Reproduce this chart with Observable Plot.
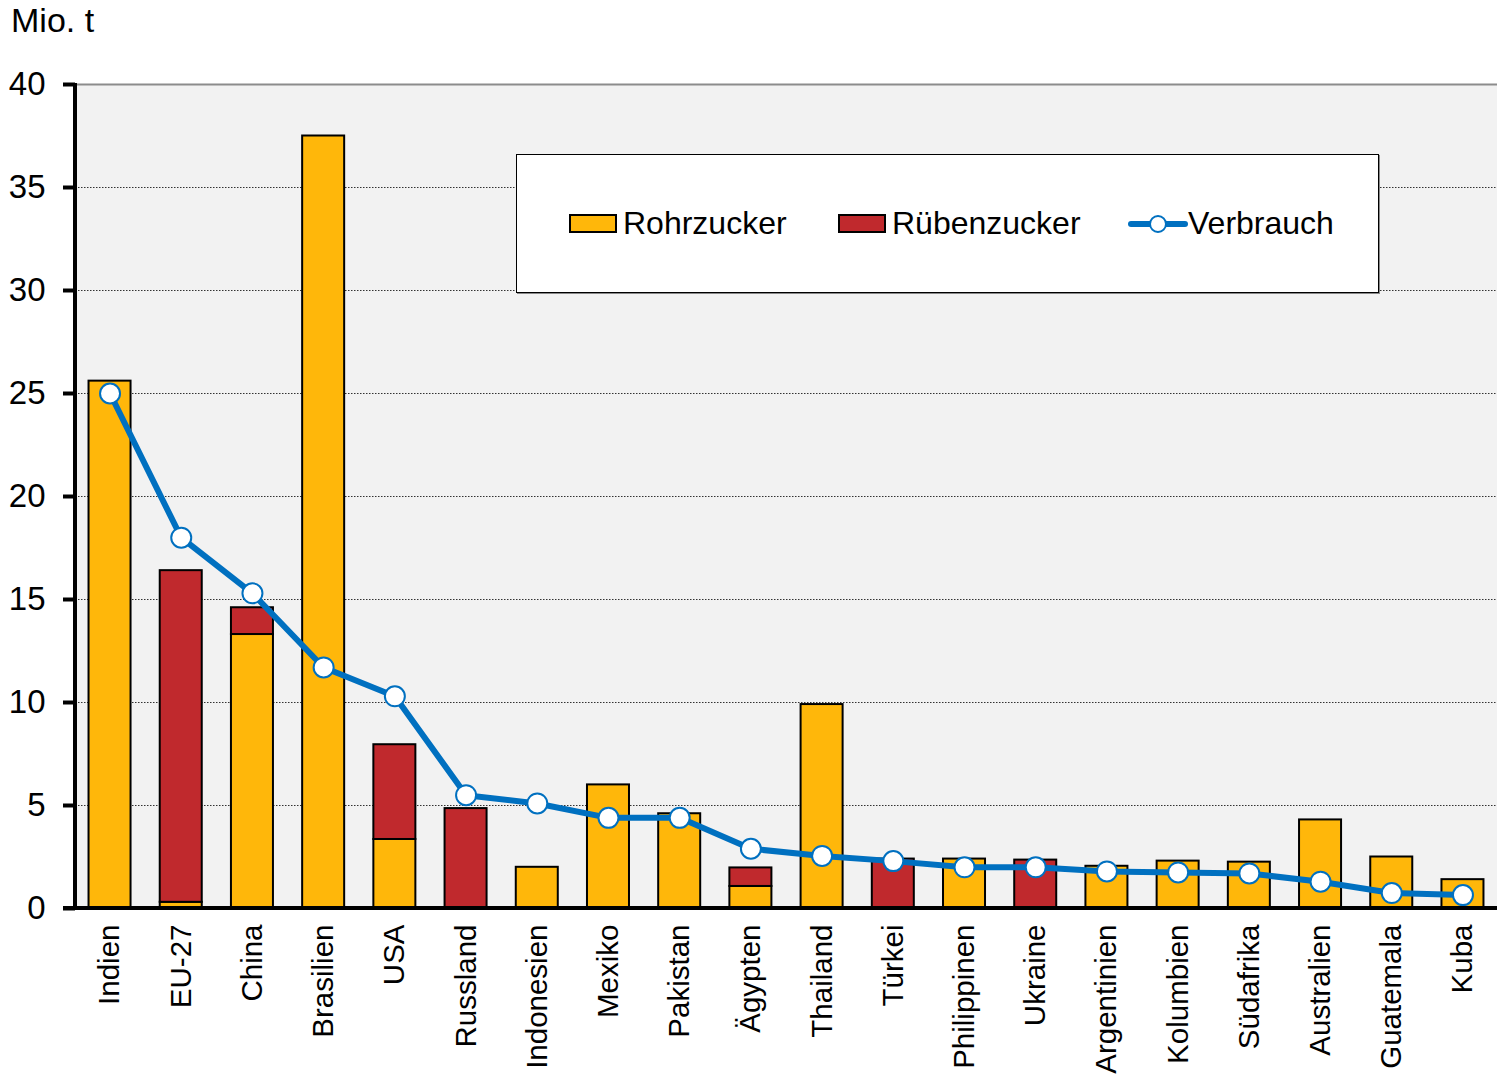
<!DOCTYPE html>
<html>
<head>
<meta charset="utf-8">
<script src="https://cdn.jsdelivr.net/npm/d3@7"></script>
<script src="https://cdn.jsdelivr.net/npm/@observablehq/plot@0.6"></script>
<style>
  html, body { margin: 0; padding: 0; background: #fff; }
  body { font-family: "Liberation Sans", Arial, sans-serif; }
  #wrap { position: relative; width: 1497px; height: 1075px; }
  #unit { position: absolute; left: 11px; top: 1px; font-size: 34px; color: #000; }
  #legend { position: absolute; left: 516px; top: 154px; width: 861px; height: 137px;
            background: #fff; border: 1px solid #000; box-shadow: 1px 1px 0 #888; }
</style>
</head>
<body>
<div id="wrap">
  <div id="chart"></div>
  <div id="unit">Mio. t</div>
  <div id="legend"></div>
</div>
<script>
const countries = ["Indien","EU-27","China","Brasilien","USA","Russland","Indonesien","Mexiko","Pakistan","Ägypten","Thailand","Türkei","Philippinen","Ukraine","Argentinien","Kolumbien","Südafrika","Australien","Guatemala","Kuba"];
const rohrzucker = [25.6, 0.3, 13.3, 37.5, 3.35, 0, 2.0, 6.0, 4.6, 1.07, 9.9, 0, 2.4, 0, 2.05, 2.3, 2.25, 4.3, 2.5, 1.4];
const ruebenzucker = [0, 16.1, 1.3, 0, 4.6, 4.85, 0, 0, 0, 0.9, 0, 2.4, 0, 2.35, 0, 0, 0, 0, 0, 0];
const verbrauch = [25.0, 18.0, 15.3, 11.7, 10.3, 5.5, 5.1, 4.4, 4.4, 2.9, 2.55, 2.3, 2.0, 2.0, 1.8, 1.75, 1.7, 1.3, 0.75, 0.65];
const yTicks = [0, 5, 10, 15, 20, 25, 30, 35, 40];
const gridTicks = [5, 10, 15, 20, 25, 30, 35];
const seriesNames = ["Rohrzucker", "Rübenzucker", "Verbrauch"];
const colors = { Rohrzucker: "#FFB70A", "Rübenzucker": "#C0292D", Verbrauch: "#0070C0" };

const barData = [];
countries.forEach((c, i) => {
  barData.push({ country: c, type: "Rohrzucker", value: rohrzucker[i] });
  barData.push({ country: c, type: "Rübenzucker", value: ruebenzucker[i] });
});
const lineData = countries.map((c, i) => ({ country: c, value: verbrauch[i] }));

const font = "'Liberation Sans', Arial, sans-serif";
const chart = Plot.plot({
  width: 1497,
  height: 1075,
  marginTop: 84,
  marginBottom: 167,
  marginLeft: 75,
  marginRight: 0,
  style: { fontFamily: font, fontSize: "30px", color: "#000", background: "transparent" },
  x: { domain: countries, paddingInner: 0.41, paddingOuter: 0.19, round: false, label: null },
  y: { domain: [0, 40], ticks: yTicks, label: null },
  marks: [
    Plot.frame({ fill: "#f2f2f2", stroke: null }),
    Plot.ruleY(gridTicks, { stroke: "#333", strokeWidth: 1, strokeDasharray: "1.5,1.5" }),
    Plot.ruleY([40], { stroke: "#8c8c8c", strokeWidth: 2 }),
    Plot.barY(barData.filter(d => d.value > 0), {
      x: "country", y: "value", fill: d => colors[d.type],
      stroke: "#000", strokeWidth: 2, order: seriesNames
    }),
    Plot.axisY({ ticks: yTicks, tickSize: 12, tickPadding: 18, strokeWidth: 4, fontSize: 33, label: null }),
    Plot.axisX({ tickRotate: -90, tickSize: 0, tickPadding: 16, fontSize: 29.5, label: null }),
    Plot.line(lineData, { x: "country", y: "value", stroke: colors.Verbrauch, strokeWidth: 6, strokeLinejoin: "round" }),
    Plot.dot(lineData, { x: "country", y: "value", r: 10, fill: "#fff", stroke: colors.Verbrauch, strokeWidth: 2 })
  ]
});
document.getElementById("chart").appendChild(chart);

// axis lines drawn through the scales
const ys = chart.scale("y");
const svg = d3.select(chart);
svg.append("line")
  .attr("x1", 75).attr("x2", 75)
  .attr("y1", ys.apply(40) - 1).attr("y2", ys.apply(0) + 2)
  .attr("stroke", "#000").attr("stroke-width", 4);
svg.append("line")
  .attr("x1", 63).attr("x2", 1497)
  .attr("y1", ys.apply(0)).attr("y2", ys.apply(0))
  .attr("stroke", "#000").attr("stroke-width", 4);

// legend
const leg = d3.select("#legend").append("svg").attr("width", 861).attr("height", 137)
  .style("font-family", font).style("font-size", "32px");
const items = [
  { name: "Rohrzucker", x: 53, kind: "bar" },
  { name: "Rübenzucker", x: 322, kind: "bar" },
  { name: "Verbrauch", x: 614, kind: "line" }
];
items.forEach(it => {
  if (it.kind === "bar") {
    leg.append("rect").attr("x", it.x).attr("y", 60).attr("width", 46).attr("height", 17)
      .attr("fill", colors[it.name]).attr("stroke", "#000").attr("stroke-width", 2);
    leg.append("text").attr("x", it.x + 53).attr("y", 79).text(it.name);
  } else {
    leg.append("line").attr("x1", it.x).attr("x2", it.x + 54).attr("y1", 69).attr("y2", 69)
      .attr("stroke", colors.Verbrauch).attr("stroke-width", 6).attr("stroke-linecap", "round");
    leg.append("circle").attr("cx", it.x + 27).attr("cy", 69).attr("r", 8)
      .attr("fill", "#fff").attr("stroke", colors.Verbrauch).attr("stroke-width", 2);
    leg.append("text").attr("x", it.x + 57).attr("y", 79).text(it.name);
  }
});
</script>
</body>
</html>
